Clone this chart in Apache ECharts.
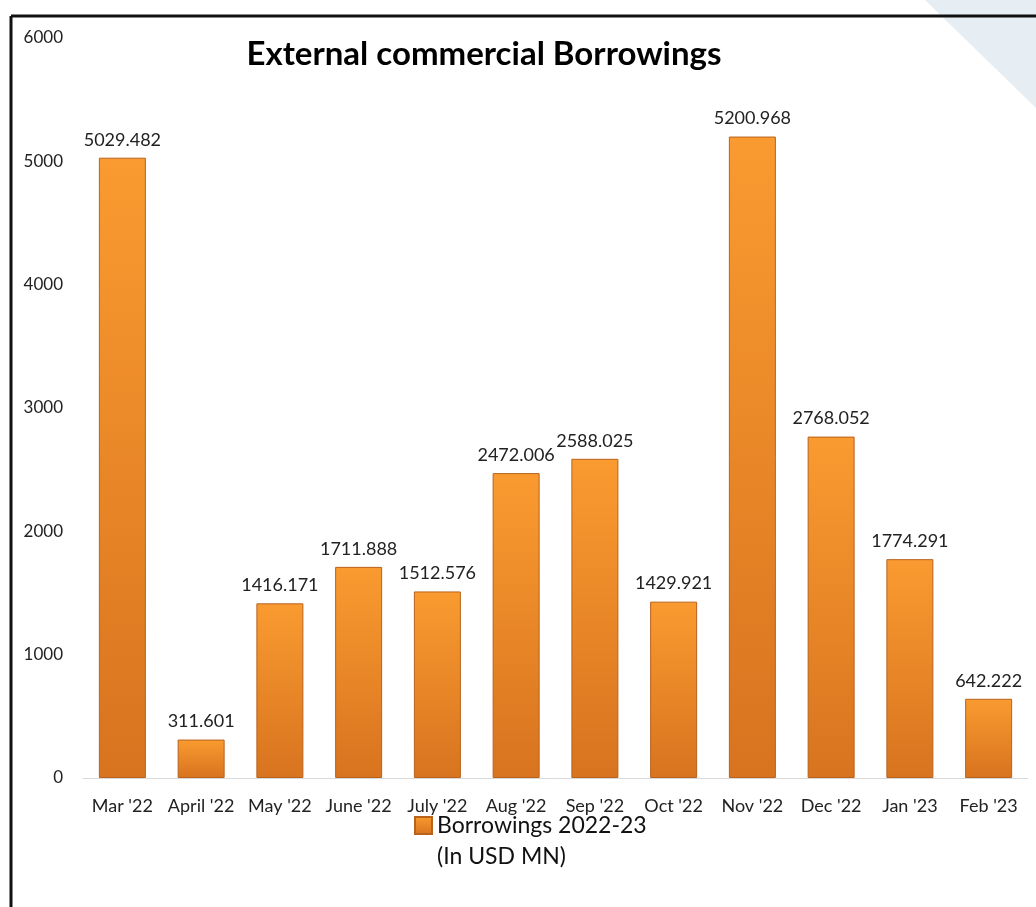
<!DOCTYPE html>
<html><head><meta charset="utf-8">
<script src="https://cdn.jsdelivr.net/npm/echarts@6/dist/echarts.min.js"></script>
<style>html,body{margin:0;padding:0;background:#fff}#c{width:1036px;height:907px}</style>
</head><body><div id="c"></div>
<script>
const categories = ["Mar '22","April '22","May '22","June '22","July '22","Aug '22","Sep '22","Oct '22","Nov '22","Dec '22","Jan '23","Feb '23"];
const borrowings = [5029.482,311.601,1416.171,1711.888,1512.576,2472.006,2588.025,1429.921,5200.968,2768.052,1774.291,642.222];
const seriesName = "Borrowings 2022-23";
const seriesUnit = "(In USD MN)";
const titleText = "External commercial Borrowings";

const chart = echarts.init(document.getElementById('c'));
const grad = new echarts.graphic.LinearGradient(0,0,0,1,[
  {offset:0,color:'#F99B30'},{offset:1,color:'#D8731F'}]);
chart.setOption({
  animation:false,
  backgroundColor:'#fff',
  textStyle:{fontFamily:'Lato'},
  graphic:[
    {type:'polygon',shape:{points:[[925,0],[1036,0],[1036,108]]},style:{fill:'#E7EEF3'},z:-1},
    {type:'line',shape:{x1:11,y1:16,x2:1036,y2:16},style:{stroke:'#111',lineWidth:3}},
    {type:'line',shape:{x1:11,y1:16,x2:11,y2:907},style:{stroke:'#111',lineWidth:3}},
    {type:'text',left:437,top:845,style:{text:seriesUnit,fontFamily:'Lato',fontSize:23,fill:'#111'}}
  ],
  title:{text:titleText,left:479,top:33,textAlign:'center',
    textStyle:{fontFamily:'Lato',fontWeight:'bold',fontSize:33,color:'#000'}},
  legend:{data:[seriesName],left:409,top:809,itemWidth:17,itemHeight:17,itemGap:6,icon:'rect',
    textStyle:{fontFamily:'Lato',fontSize:23,color:'#111'}},
  grid:{left:83,right:8,top:38,bottom:129,containLabel:false},
  xAxis:{type:'category',data:categories,
    axisLine:{lineStyle:{color:'#D9D9D9',width:1}},axisTick:{show:false},
    axisLabel:{fontFamily:'Lato',fontSize:18,color:'#222',margin:19,interval:0}},
  yAxis:{type:'value',min:0,max:6000,interval:1000,
    splitLine:{show:false},axisLine:{show:false},axisTick:{show:false},
    axisLabel:{fontFamily:'Lato',fontSize:17,color:'#222',margin:20,formatter:v=>String(v)}},
  series:[{name:seriesName,type:'bar',data:borrowings,barWidth:47,
    itemStyle:{color:grad,borderColor:'#B8621C',borderWidth:1},
    label:{show:true,position:'top',distance:9,fontFamily:'Lato',fontSize:18,color:'#222'}}]
});
</script></body></html>
